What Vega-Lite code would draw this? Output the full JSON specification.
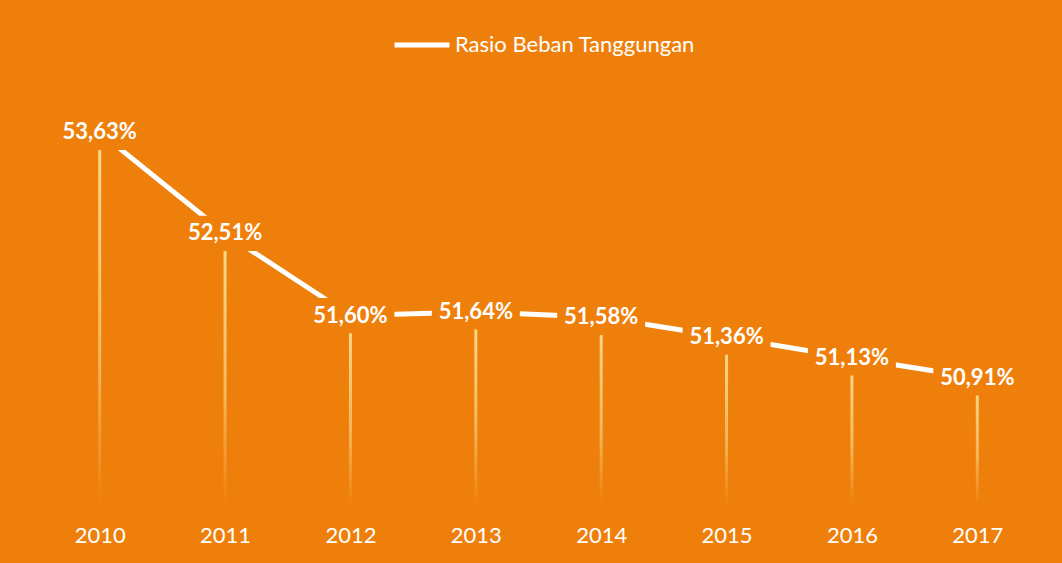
{
  "$schema": "https://vega.github.io/schema/vega-lite/v6.json",
  "width": 1003,
  "height": 406,
  "autosize": {"type": "none"},
  "padding": {"left": 37, "top": 99, "right": 22, "bottom": 58},
  "background": "#EF7F0B",
  "config": {
    "view": {"stroke": null},
    "font": "Lato",
    "locale": {"number": {"decimal": ",", "thousands": ".", "grouping": [3], "currency": ["", ""]}}
  },
  "data": {
    "values": [
      {"year": "2010", "value": 0.5363, "series": "Rasio Beban Tanggungan"},
      {"year": "2011", "value": 0.5251, "series": "Rasio Beban Tanggungan"},
      {"year": "2012", "value": 0.5160, "series": "Rasio Beban Tanggungan"},
      {"year": "2013", "value": 0.5164, "series": "Rasio Beban Tanggungan"},
      {"year": "2014", "value": 0.5158, "series": "Rasio Beban Tanggungan"},
      {"year": "2015", "value": 0.5136, "series": "Rasio Beban Tanggungan"},
      {"year": "2016", "value": 0.5113, "series": "Rasio Beban Tanggungan"},
      {"year": "2017", "value": 0.5091, "series": "Rasio Beban Tanggungan"}
    ]
  },
  "encoding": {
    "x": {
      "field": "year", "type": "ordinal",
      "scale": {"type": "point", "padding": 0.5},
      "axis": {
        "title": null, "domain": false, "ticks": false, "labelAngle": 0,
        "labelColor": "#FFFFFF", "labelFontSize": 22, "labelPadding": 20, "labelFont": "Lato"
      }
    },
    "y": {
      "field": "value", "type": "quantitative",
      "scale": {"domain": [0.495, 0.54], "zero": false, "nice": false},
      "axis": null
    }
  },
  "layer": [
    {
      "mark": {
        "type": "bar", "width": 3,
        "fill": {
          "gradient": "linear", "x1": 0, "y1": 0, "x2": 0, "y2": 1,
          "stops": [
            {"offset": 0, "color": "#F7DC8E"},
            {"offset": 0.6, "color": "#F4B85A"},
            {"offset": 1, "color": "#EF7F0B"}
          ]
        }
      },
      "encoding": {"y2": {"datum": 0.495}}
    },
    {
      "mark": {"type": "line", "strokeWidth": 5, "strokeCap": "butt"},
      "encoding": {
        "color": {
          "field": "series", "type": "nominal",
          "scale": {"range": ["#FFFFFF"]},
          "legend": {
            "title": null, "orient": "none", "legendX": 355, "legendY": -84,
            "direction": "horizontal", "padding": 0, "labelLimit": 0,
            "symbolType": "stroke", "symbolSize": 3025, "symbolStrokeWidth": 5,
            "labelColor": "#FFFFFF", "labelFontSize": 22, "labelFont": "Lato", "labelOffset": 3
          }
        }
      }
    },
    {
      "mark": {
        "type": "point", "filled": true, "fill": "#EF7F0B", "opacity": 1, "strokeWidth": 0,
        "shape": "M-1,-0.4H1V0.4H-1Z", "size": 7744
      }
    },
    {
      "mark": {"type": "text", "color": "#FFFFFF", "fontSize": 22, "fontWeight": "bold", "font": "Lato", "baseline": "middle", "dy": 0},
      "encoding": {"text": {"field": "value", "type": "quantitative", "format": ".2%"}}
    }
  ]
}
